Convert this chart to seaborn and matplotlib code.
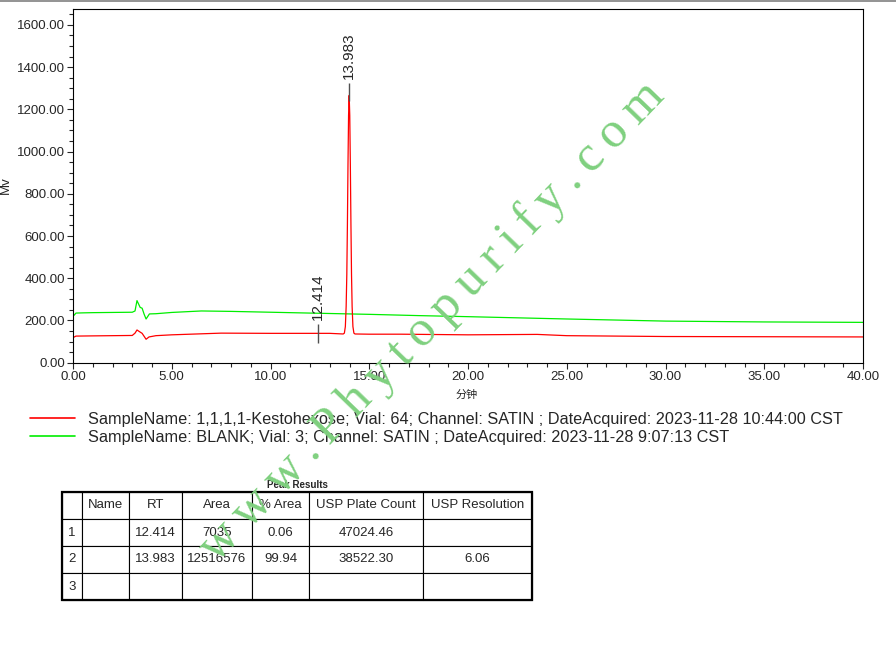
import pandas as pd
import seaborn as sns
import matplotlib.pyplot as plt
import numpy as np
from matplotlib.lines import Line2D
from matplotlib.patches import Rectangle

# Chromatogram traces (time in min, signal in mV)
red_time = [0.00, 0.05, 0.15, 1.00, 2.00, 3.00, 3.14, 3.24, 3.35, 3.50, 3.60, 3.70, 3.85, 4.20,
            5.00, 7.50, 10.00, 12.00, 13.00, 13.68, 13.74, 13.79, 13.83, 13.864, 13.894, 13.923,
            13.953, 13.983, 14.013, 14.043, 14.073, 14.102, 14.133, 14.173, 14.223, 14.28,
            15.00, 16.60, 20.00, 23.50, 25.00, 30.00, 35.00, 40.00]
red_mv = [126, 121, 126, 127, 128, 129, 140, 155, 148, 139, 125, 111, 122, 128,
          132, 140, 139, 139, 139, 136, 140, 171, 265, 418, 653, 935,
          1172, 1266, 1172, 935, 653, 418, 265, 171, 140, 136,
          135, 135, 132, 134, 128, 124, 123, 122]

green_time = [0.00, 0.05, 0.15, 0.50, 1.00, 2.00, 3.00, 3.14, 3.24, 3.40, 3.50, 3.60, 3.70, 3.87,
              4.20, 5.00, 6.50, 8.00, 10.00, 12.00, 15.00, 17.50, 20.00, 25.00, 30.00, 35.00, 40.00]
green_mv = [237, 224, 235, 236, 237, 238, 239, 245, 294, 262, 258, 230, 207, 231,
            232, 238, 245, 243, 239, 235, 229, 223, 218, 207, 197, 193, 191]

sample_labels = [
    "SampleName: 1,1,1,1-Kestohexose; Vial: 64; Channel: SATIN ; DateAcquired: 2023-11-28 10:44:00 CST",
    "SampleName: BLANK; Vial: 3; Channel: SATIN ; DateAcquired: 2023-11-28 9:07:13 CST",
]
sample_colors = ["#ff0000", "#00ee00"]

# peak annotations
peak_rt = [12.414, 13.983]
peak_tick_lo = [95, 1237]
peak_tick_hi = [183, 1324]

# Peak Results table
col_labels = ["", "Name", "RT", "Area", "% Area", "USP Plate Count", "USP Resolution"]
row_index = ["1", "2", "3"]
peak_names = ["", "", ""]
rt_text = ["12.414", "13.983", ""]
area_text = ["7035", "12516576", ""]
pct_area_text = ["0.06", "99.94", ""]
plate_text = ["47024.46", "38522.30", ""]
resolution_text = ["", "6.06", ""]

sns.set_style("ticks")
plt.rcParams['font.family'] = ['Liberation Sans', 'Noto Sans CJK SC', 'DejaVu Sans']

df = pd.concat([
    pd.DataFrame({"time": red_time, "mv": red_mv, "sample": sample_labels[0]}),
    pd.DataFrame({"time": green_time, "mv": green_mv, "sample": sample_labels[1]}),
])

W, H = 896, 657
fig = plt.figure(figsize=(W / 100, H / 100), dpi=100)
ax = fig.add_axes([73 / W, 1 - 362.7 / H, (863 - 73) / W, (362.7 - 9) / H])

# green (blank) underneath red
sns.lineplot(data=df, x="time", y="mv", hue="sample", hue_order=sample_labels[::-1],
             palette=dict(zip(sample_labels, sample_colors)), estimator=None,
             linewidth=0.9, legend=False, ax=ax)

ax.set_xlim(0, 40)
ax.set_ylim(0, 1675)
ax.set_xticks(np.arange(0, 41, 5))
ax.set_xticks(np.arange(0, 41, 1), minor=True)
ax.set_yticks(np.arange(0, 1601, 200))
ax.set_yticks(np.arange(0, 1676, 50), minor=True)
ax.set_xticklabels([f"{v:.2f}" for v in np.arange(0, 41, 5)])
ax.set_yticklabels([f"{v:.2f}" for v in np.arange(0, 1601, 200)])
ax.tick_params(which="major", direction="out", length=4.3, width=0.8, labelsize=9.5, pad=1.5)
ax.tick_params(which="minor", direction="out", length=3, width=0.8)
for s in ax.spines.values():
    s.set_linewidth(0.8)
    s.set_color("black")
ax.set_xlabel("")
ax.set_ylabel("")

# peak markers and labels
for rt, lo, hi in zip(peak_rt, peak_tick_lo, peak_tick_hi):
    ax.vlines(rt, lo, hi, color="#505050", linewidth=1.0, zorder=4)
    ax.annotate(f"{rt:.3f}", (rt, hi), xytext=(0, 3), textcoords="offset points",
                rotation=90, ha="center", va="bottom", fontsize=11)

fig.text(467 / W, 1 - 395 / H, "分钟", fontsize=8, ha="center", va="center",
         family=['Noto Sans CJK SC', 'DejaVu Sans'])
fig.text(6 / W, 1 - 185 / H, "Mv", fontsize=9.5, rotation=90, ha="center", va="center")

# thin page edge at top
fig.add_artist(Line2D([0, 1], [1 - 0.5 / H, 1 - 0.5 / H], color="#808080", linewidth=1.2))

handles = [Line2D([], [], color=c, linewidth=1.2) for c in sample_colors]
fig.legend(handles, sample_labels, loc="upper left", bbox_to_anchor=(30 / W, 1 - 412 / H),
           bbox_transform=fig.transFigure, frameon=False, fontsize=11.7, handlelength=2.75,
           handletextpad=0.8, labelspacing=0.16, borderpad=0, borderaxespad=0)

# results table
fig.text(297 / W, 1 - 485 / H, "Peak Results", fontsize=7, fontweight="bold", ha="center", va="center")
col_px = [20, 47, 53, 70, 57, 114, 109]
tab_x0, tab_x1, tab_y0, tab_y1 = 62, 532, 492, 600
ax_t = fig.add_axes([tab_x0 / W, 1 - tab_y1 / H, (tab_x1 - tab_x0) / W, (tab_y1 - tab_y0) / H])
ax_t.axis("off")
cells = [list(r) for r in zip(row_index, peak_names, rt_text, area_text, pct_area_text,
                              plate_text, resolution_text)]
tbl = ax_t.table(cellText=cells, colLabels=col_labels,
                 colWidths=[c / sum(col_px) for c in col_px], bbox=[0, 0, 1, 1], cellLoc="center")
tbl.auto_set_font_size(False)
tbl.set_fontsize(9.5)
col_align = ["left", "center", "left", "right", "right", "center", "center"]
for (r, c), cell in tbl.get_celld().items():
    cell.set_linewidth(0.8)
    cell.set_edgecolor("black")
    if r > 0:
        cell._loc = col_align[c]
        cell.PAD = 5 / col_px[c]
ax_t.add_patch(Rectangle((0, 0), 1, 1, transform=ax_t.transAxes, fill=False,
                         edgecolor="black", linewidth=1.6, clip_on=False, zorder=5))

# watermark
wm = "\u2009".join("www.Phytopurify.com")
fig.text(432 / W, 1 - 322 / H, wm, fontsize=36.5,
         family=["Liberation Serif", "DejaVu Serif"], color="#7fd07f", rotation=46,
         rotation_mode="anchor", ha="center", va="center", zorder=20)

fig.savefig("out.png", dpi=100)
